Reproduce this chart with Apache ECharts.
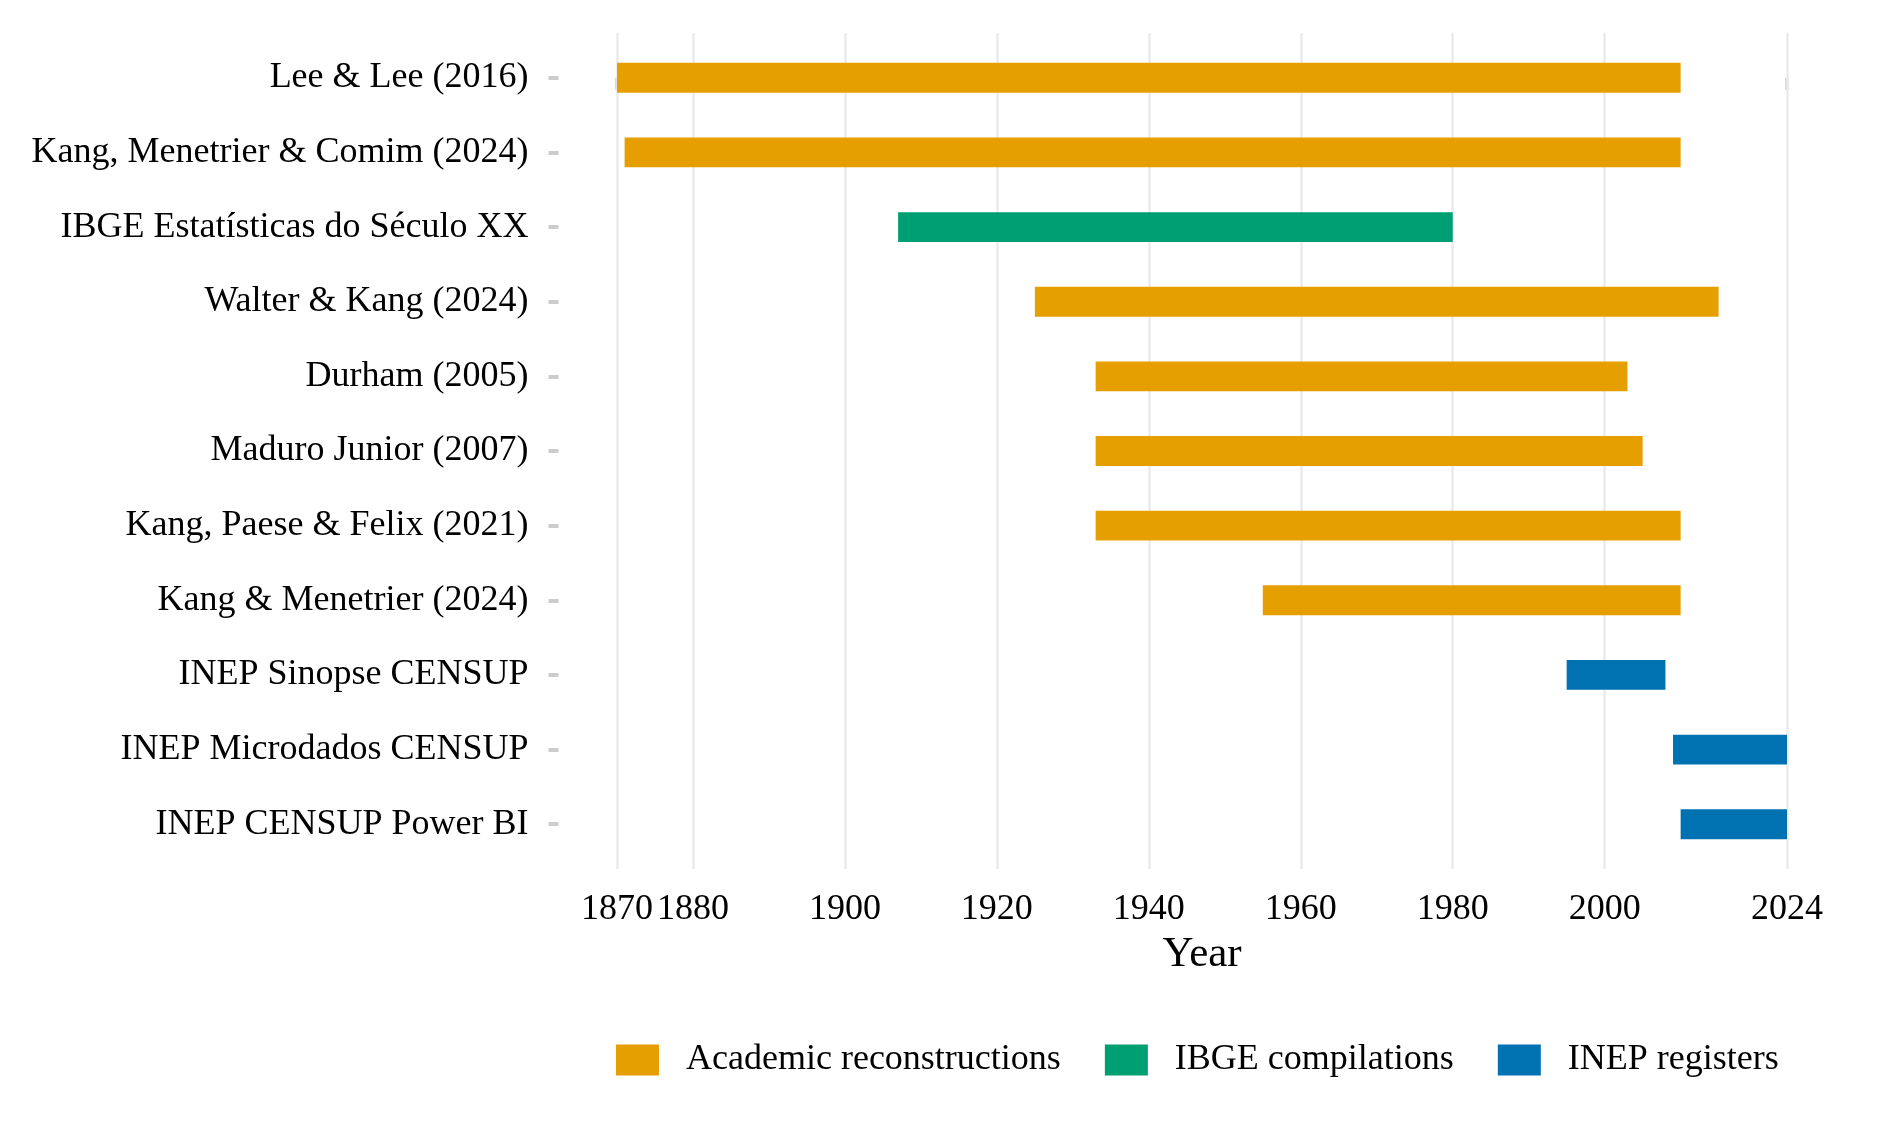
<!DOCTYPE html>
<html>
<head>
<meta charset="utf-8">
<title>Data source coverage</title>
<script src="https://cdn.jsdelivr.net/npm/echarts@6/dist/echarts.min.js"></script>
<style>
  html, body { margin: 0; padding: 0; background: #fff; }
  #chart { width: 1879px; height: 1138px; }
</style>
</head>
<body>
<div id="chart"></div>
<script>
// sources, top to bottom
var sources = [
  'Lee & Lee (2016)',
  'Kang, Menetrier & Comim (2024)',
  'IBGE Estatísticas do Século XX',
  'Walter & Kang (2024)',
  'Durham (2005)',
  'Maduro Junior (2007)',
  'Kang, Paese & Felix (2021)',
  'Kang & Menetrier (2024)',
  'INEP Sinopse CENSUP',
  'INEP Microdados CENSUP',
  'INEP CENSUP Power BI'
];
var startYears = [1870, 1871, 1907, 1925, 1933, 1933, 1933, 1955, 1995, 2009, 2010];
var endYears   = [2010, 2010, 1980, 2015, 2003, 2005, 2010, 2010, 2008, 2024, 2024];
var groupOf    = [0, 0, 1, 0, 0, 0, 0, 0, 2, 2, 2];

var groups = ['Academic reconstructions', 'IBGE compilations', 'INEP registers'];
var groupColors = ['#E69F00', '#009E73', '#0072B2'];

var yearTicks = [1870, 1880, 1900, 1920, 1940, 1960, 1980, 2000, 2024];

var FONT = '"Liberation Serif", "DejaVu Serif", serif';

var chart = echarts.init(document.getElementById('chart'));

function renderBar(params, api) {
  var a = api.coord([api.value(0), api.value(2)]);
  var b = api.coord([api.value(1), api.value(2)]);
  var h = api.size([0, 0.4])[1];
  return {
    type: 'rect',
    shape: { x: a[0], y: a[1] - h / 2, width: b[0] - a[0], height: h },
    style: { fill: api.visual('color') }
  };
}

var series = groups.map(function (g, gi) {
  var data = [];
  for (var i = 0; i < sources.length; i++) {
    if (groupOf[i] === gi) data.push([startYears[i], endYears[i], i]);
  }
  return {
    name: g,
    type: 'custom',
    z: 10,
    renderItem: renderBar,
    encode: { x: [0, 1], y: 2 },
    itemStyle: { color: groupColors[gi] },
    data: data
  };
});

// vertical grid lines at the year breaks
series.unshift({
  type: 'line',
  z: 1,
  data: [],
  silent: true,
  markLine: {
    z: 1,
    silent: true,
    symbol: 'none',
    animation: false,
    label: { show: false },
    lineStyle: { color: '#ebebeb', width: 2.5, type: 'solid' },
    data: yearTicks.map(function (y) { return { xAxis: y }; })
  }
});

var option = {
  animation: false,
  backgroundColor: '#fff',
  textStyle: { fontFamily: FONT, color: '#000' },
  grid: { left: 558.5, right: 33.5, top: 33, bottom: 269, containLabel: false },
  xAxis: {
    type: 'value',
    min: 1862.3,
    max: 2031.7,
    name: 'Year',
    nameLocation: 'middle',
    nameGap: 60,
    nameTextStyle: { fontFamily: FONT, fontSize: 43, color: '#000' },
    axisLine: { show: false },
    axisTick: {
      show: true, customValues: yearTicks, length: 12,
      lineStyle: { color: '#cccccc', width: 3.5 }
    },
    axisLabel: {
      customValues: yearTicks, margin: 23, hideOverlap: false,
      showMinLabel: true, showMaxLabel: true,
      fontFamily: FONT, fontSize: 36, color: '#000',
      formatter: function (v) { return String(v); }
    },
    splitLine: { show: false }
  },
  yAxis: {
    type: 'value',
    min: -0.6,
    max: 10.6,
    inverse: true,
    axisLine: { show: false },
    axisTick: {
      show: true, customValues: sources.map(function (s, i) { return i; }),
      length: 10, lineStyle: { color: '#cccccc', width: 4 }
    },
    axisLabel: {
      customValues: sources.map(function (s, i) { return i; }),
      margin: 30, fontFamily: FONT, fontSize: 36, color: '#000',
      padding: [5, 0, 0, 0],
      formatter: function (v) { return sources[Math.round(v)]; }
    },
    splitLine: { show: false }
  },
  legend: {
    left: 611,
    top: 1037,
    itemWidth: 43,
    itemHeight: 31,
    itemGap: 44,
    icon: 'rect',
    textStyle: { fontFamily: FONT, fontSize: 36, color: '#000', padding: [0, 0, 0, 22] },
    data: groups
  },
  series: series
};

chart.setOption(option);
</script>
</body>
</html>
